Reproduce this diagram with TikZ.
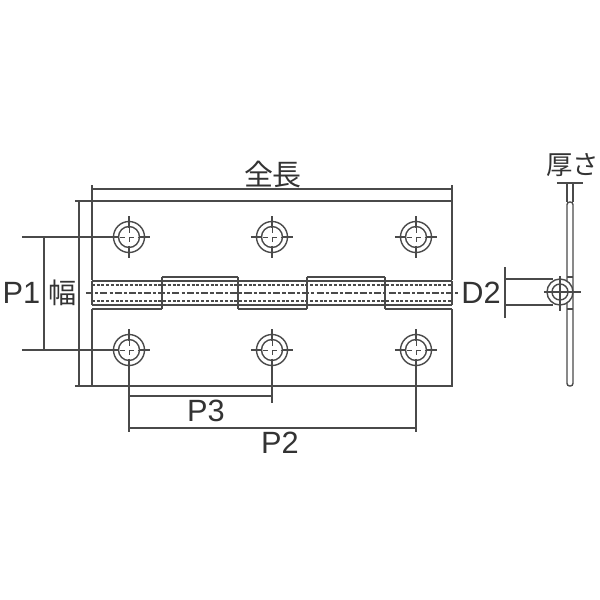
\documentclass[tikz,border=0pt]{standalone}
\usepackage{fontspec}
\setmainfont{Liberation Sans}
\newfontfamily\cjk{Noto Sans CJK JP}
\definecolor{trait}{HTML}{4A4A4A}
\tikzset{
	contour/.style={trait,line width=0.8pt},
	cote/.style={trait,line width=0.6pt},
	axe/.style={trait,line width=0.6pt,dash pattern=on 4pt off 1.2pt on 1.8pt off 1.2pt},
	cache/.style={trait,line width=0.8pt,dash pattern=on 1.7pt off 1pt},
	etiquette/.style={text=black!80,font=\fontsize{17.5}{18}\selectfont,inner sep=0pt},
	kanji/.style={etiquette,font=\cjk\fontsize{#1}{#1}\selectfont},
}
\begin{document}
\begin{tikzpicture}[x=0.02cm,y=-0.02cm]
	\useasboundingbox (0,0) rectangle (600,600);
%	Plaques :
	\draw[contour] (92,280) -- (92,201) -- (452,201) -- (452,280);
	\draw[contour] (92,309) -- (92,386) -- (452,386) -- (452,309);
	\draw[contour] (92,309) -- (162,309);
	\draw[contour] (238,309) -- (307,309);
	\draw[contour] (385,309) -- (452,309);
%	Charnière :
	\draw[contour] (92,281) -- (452,281);
	\draw[contour] (92,305) -- (452,305);
	\draw[contour] (92,281) -- (92,305);
	\draw[contour] (452,281) -- (452,305);
	\draw[contour] (162,277) -- (238,277);
	\draw[contour] (307,277) -- (385,277);
	\foreach \x in {162,238,307,385}
		\draw[trait,line width=1.1pt] (\x,277) -- (\x,309);
	\draw[cache] (92,285) -- (452,285);
	\draw[cache] (92,301) -- (452,301);
	\draw[axe] (86,293) -- (460,293);
%	Trous :
	\foreach \x in {129,272,416}{
		\foreach \y in {237,350}{
			\draw[contour] (\x,\y) circle (15.5);
			\draw[contour] (\x,\y) circle (10.5);
			\draw[cote] (\x,\y-21) -- (\x,\y-9);
			\draw[cote] (\x,\y+9) -- (\x,\y+21);
			\draw[trait,line width=0.5pt,densely dashed] (\x,\y-9) -- (\x,\y+9);
			\draw[trait,line width=0.5pt,densely dashed] (\x-9,\y) -- (\x+9,\y);
			\draw[cote] (\x-21,\y) -- (\x-10,\y);
			\draw[cote] (\x+10,\y) -- (\x+21,\y);
		}
	}
%	Cotes :
	\draw[cote] (92,185) -- (92,201);
	\draw[cote] (452,185) -- (452,201);
	\draw[cote] (92,189) -- (452,189);
	\draw[cote] (75,201) -- (92,201);
	\draw[cote] (75,386) -- (92,386);
	\draw[cote] (79,201) -- (79,386);
	\draw[cote] (22,237) -- (108,237);
	\draw[cote] (22,350) -- (108,350);
	\draw[cote] (44,237) -- (44,350);
	\draw[cote] (129,371) -- (129,432);
	\draw[cote] (272,371) -- (272,403);
	\draw[cote] (416,371) -- (416,432);
	\draw[cote] (129,396) -- (272,396);
	\draw[cote] (129,428) -- (416,428);
%	Vue de côté :
	\draw[contour,rounded corners=1.5pt] (567,202) rectangle (573,386);
	\draw[contour] (573,277) -- (567,277);
	\draw[contour] (573,309) -- (567,309);
	\draw[contour,fill=white] (560,292) circle (13);
	\draw[contour] (560,292) circle (8);
	\draw[cote] (544,292) -- (581,292);
	\draw[cote] (560,276) -- (560,311);
	\draw[cote] (505,267) -- (505,318);
	\draw[cote] (505,279) -- (553,279);
	\draw[cote] (505,305) -- (553,305);
	\draw[cote] (557,183) -- (583,183);
	\draw[cote] (567,183) -- (567,202);
	\draw[cote] (573,183) -- (573,202);
%	Textes :
	\node[kanji=16.5] (longueur) at (273,174) {全長};
	\node[etiquette] (pun) at (21.5,293) {P1};
	\node[kanji=16] (largeur) at (63,293) {幅};
	\node[etiquette] (dd) at (481,293) {D2};
	\node[etiquette] (ptrois) at (206,411) {P3};
	\node[etiquette] (pdeux) at (280,443) {P2};
	\node[kanji=15] (epaisseur) at (573,165) {厚さ};
\end{tikzpicture}
\end{document}
